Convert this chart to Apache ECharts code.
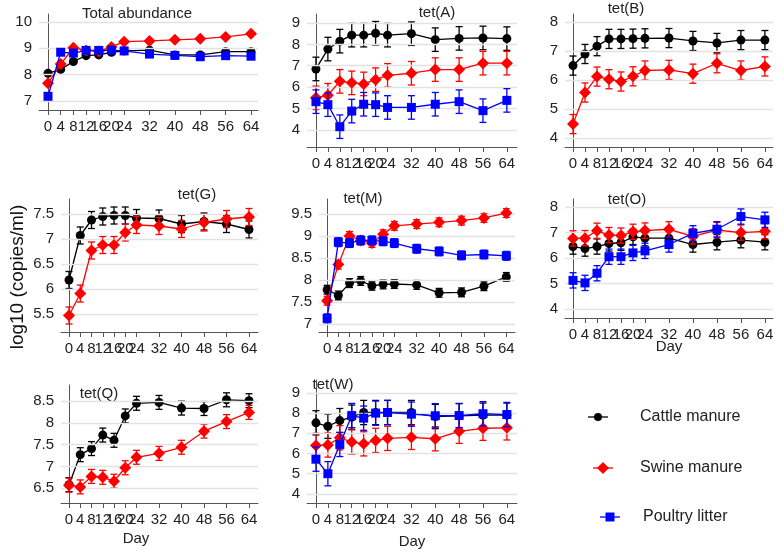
<!DOCTYPE html>
<html><head><meta charset="utf-8">
<script src="https://cdn.jsdelivr.net/npm/echarts@6/dist/echarts.min.js"></script>
<style>html,body{margin:0;padding:0;background:#fff}#c{width:784px;height:558px}</style>
</head><body><div id="c"></div>
<script>
// ---------------- data ----------------
const days = [0,4,8,12,16,20,24,32,40,48,56,64];
const seriesNames = ['Cattle manure','Swine manure','Poultry litter'];
const panelTitles = ['Total abundance','tet(A)','tet(B)','tet(G)','tet(M)','tet(O)','tet(Q)','tet(W)'];

const totalCattle  = [8.05,8.20,8.50,8.72,8.75,8.85,8.90,8.93,8.75,8.75,8.87,8.87];
const totalSwine   = [7.67,8.40,9.02,8.92,8.88,9.05,9.25,9.28,9.32,9.36,9.43,9.55];
const totalPoultry = [7.18,8.85,8.82,8.92,8.92,8.93,8.90,8.78,8.73,8.68,8.72,8.70];

const tetACattle  = [6.85,7.78,8.15,8.43,8.43,8.52,8.43,8.50,8.22,8.28,8.30,8.27];
const tetASwine   = [5.50,5.62,6.27,6.20,6.15,6.35,6.55,6.65,6.82,6.82,7.12,7.12];
const tetAPoultry = [5.32,5.18,4.15,4.88,5.20,5.18,5.05,5.05,5.20,5.32,4.90,5.38];

const tetBCattle = [6.50,6.90,7.17,7.42,7.42,7.43,7.44,7.45,7.35,7.28,7.38,7.38];
const tetBSwine  = [4.48,5.57,6.12,6.03,5.95,6.13,6.33,6.35,6.22,6.58,6.33,6.47];

const tetGCattle = [6.18,7.07,7.38,7.45,7.47,7.47,7.42,7.41,7.30,7.35,7.30,7.19];
const tetGSwine  = [5.47,5.91,6.77,6.88,6.88,7.13,7.28,7.26,7.20,7.33,7.40,7.44];

const tetMCattle  = [7.78,7.65,7.93,7.98,7.87,7.90,7.91,7.89,7.71,7.72,7.86,8.07];
const tetMSwine   = [7.53,8.35,9.00,8.90,8.84,9.04,9.23,9.27,9.31,9.35,9.41,9.52];
const tetMPoultry = [7.13,8.86,8.84,8.90,8.90,8.88,8.84,8.71,8.65,8.56,8.58,8.55];

const tetOCattle  = [6.45,6.37,6.45,6.57,6.60,6.83,6.78,6.78,6.53,6.62,6.70,6.62];
const tetOSwine   = [6.77,6.78,7.07,6.90,6.88,7.03,7.08,7.13,6.85,7.10,7.00,7.05];
const tetOPoultry = [5.12,5.02,5.40,6.05,6.05,6.20,6.28,6.53,6.97,7.13,7.63,7.50];

const tetQCattle = [6.58,7.27,7.41,7.72,7.60,8.16,8.45,8.47,8.34,8.33,8.53,8.51];
const tetQSwine  = [6.57,6.53,6.77,6.75,6.66,6.97,7.21,7.30,7.44,7.81,8.03,8.24];

const tetWCattle  = [7.52,7.35,7.63,7.80,8.03,8.03,8.03,8.03,7.83,7.87,7.90,7.90];
const tetWSwine   = [6.40,6.42,6.78,6.57,6.48,6.65,6.75,6.80,6.73,7.10,7.25,7.27];
const tetWPoultry = [5.72,5.00,6.45,7.88,7.75,8.00,8.03,7.95,7.87,7.88,7.97,7.93];

// half-length of error bars per panel (log10 units)
const panelErrors = [0.03,0.55,0.33,0.17,0.10,0.30,0.16,0.60];

// y tick labels per panel
const yTicks = [
  [7,8,9,10],[4,5,6,7,8,9],[4,5,6,7,8],[5.5,6,6.5,7,7.5],
  [7,7.5,8,8.5,9,9.5],[4,5,6,7,8],[6.5,7,7.5,8,8.5],[4,5,6,7,8,9]
];
const yRanges = [[6.66,10.3],[3.2,9.42],[3.69,8.28],[5.14,7.8],[6.82,9.84],[3.64,8.32],[6.16,8.87],[3.55,9.64]];

const panelSeries = [
  [totalCattle,totalSwine,totalPoultry],
  [tetACattle,tetASwine,tetAPoultry],
  [tetBCattle,tetBSwine,null],
  [tetGCattle,tetGSwine,null],
  [tetMCattle,tetMSwine,tetMPoultry],
  [tetOCattle,tetOSwine,tetOPoultry],
  [tetQCattle,tetQSwine,null],
  [tetWCattle,tetWSwine,tetWPoultry]
];

// ---------------- layout / style ----------------
const grids = [
  {left:39, top:14, width:219, height:96,  xr:[-2.84,66.2]},
  {left:307,top:14, width:210, height:133, xr:[-3.0,67.4]},
  {left:565,top:14, width:208, height:133, xr:[-2.67,66.7]},
  {left:61, top:199,width:197, height:133, xr:[-2.85,67.2]},
  {left:319,top:199,width:196, height:133, xr:[-2.9,67.1]},
  {left:565,top:199,width:208, height:119, xr:[-2.67,66.7]},
  {left:61, top:385,width:197, height:118, xr:[-2.85,67.2]},
  {left:307,top:380,width:210, height:123, xr:[-3.0,67.4]}
];
const titlePos = [[137,14],[437,13],[626,9],[197,195],[363,199],[627,200],[99,394],[333,385]];
const colors = ['#000000','#ff0000','#0000ff'];
const symbols = ['circle','diamond','rect'];
const symbolSizes = [9,12,9];
const FONT = 'Liberation Sans, Arial, sans-serif';
const axisColor = '#555';
const labelColor = '#222';

const option = {
  animation:false,
  backgroundColor:'#fff',
  grid:[], xAxis:[], yAxis:[], series:[], graphic:[]
};

grids.forEach((g,i)=>{
  option.grid.push({left:g.left, top:g.top, width:g.width, height:g.height, containLabel:false});
  option.xAxis.push({
    type:'value', gridIndex:i, min:g.xr[0], max:g.xr[1],
    axisLine:{show:true, onZero:false, lineStyle:{color:axisColor, width:1}},
    axisTick:{show:true, length:5, customValues:days, lineStyle:{color:axisColor}},
    axisLabel:{customValues:days, color:labelColor, fontSize:15, fontFamily:FONT, margin:9},
    splitLine:{show:false}
  });
  option.yAxis.push({
    type:'value', gridIndex:i, min:yRanges[i][0], max:yRanges[i][1],
    axisLine:{show:true, lineStyle:{color:axisColor, width:1}},
    axisTick:{show:true, length:5, customValues:yTicks[i], lineStyle:{color:axisColor}},
    axisLabel:{customValues:yTicks[i], color:labelColor, fontSize:15, fontFamily:FONT, margin:7},
    splitLine:{show:false}
  });
  // grid lines at y ticks (light grey)
  option.series.push({
    type:'line', xAxisIndex:i, yAxisIndex:i, silent:true, symbol:'none', z:0,
    data:[[g.xr[0], yTicks[i][0]],[g.xr[1], yTicks[i][0]]],
    lineStyle:{opacity:0},
    markLine:{silent:true, symbol:'none', animation:false, label:{show:false},
      lineStyle:{color:'#e2e2e2', type:'solid', width:1.3},
      data:yTicks[i].map(v=>({yAxis:v}))}
  });
  panelSeries[i].forEach((vals,s)=>{
    if(!vals) return;
    const err = panelErrors[i];
    const col = colors[s];
    option.series.push({
      type:'custom', xAxisIndex:i, yAxisIndex:i, silent:true, z:2+s*2,
      data: days.map((d,k)=>[d, vals[k]-err, vals[k]+err]),
      encode:{x:0, y:[1,2]},
      renderItem:(params,api)=>{
        const x = api.value(0);
        const lo = api.coord([x, api.value(1)]);
        const hi = api.coord([x, api.value(2)]);
        const w = 3.5;
        const st = {stroke:col, lineWidth:1.3};
        return {type:'group', children:[
          {type:'line', shape:{x1:lo[0],y1:lo[1],x2:hi[0],y2:hi[1]}, style:st},
          {type:'line', shape:{x1:lo[0]-w,y1:lo[1],x2:lo[0]+w,y2:lo[1]}, style:st},
          {type:'line', shape:{x1:hi[0]-w,y1:hi[1],x2:hi[0]+w,y2:hi[1]}, style:st}
        ]};
      }
    });
    option.series.push({
      type:'line', name:seriesNames[s], xAxisIndex:i, yAxisIndex:i, z:3+s*2,
      data: days.map((d,k)=>[d, vals[k]]),
      symbol:symbols[s], symbolSize:symbolSizes[s], showSymbol:true,
      lineStyle:{color:col, width:1.3},
      itemStyle:{color:col, borderWidth:0}
    });
  });
  option.graphic.push({type:'text', x:titlePos[i][0], y:titlePos[i][1],
    style:{text:panelTitles[i], font:'15px '+FONT, fill:'#222', align:'center', verticalAlign:'middle'}});
});

// axis titles
option.graphic.push({type:'text', x:18, y:277, rotation:Math.PI/2,
  style:{text:'log10 (copies/ml)', font:'19px '+FONT, fill:'#111', align:'center', verticalAlign:'middle'}});
[[669,347],[136,539],[412,542]].forEach(p=>{
  option.graphic.push({type:'text', x:p[0], y:p[1],
    style:{text:'Day', font:'15px '+FONT, fill:'#222', align:'center', verticalAlign:'middle'}});
});

// legend
const legendPos = [[598,417,640],[603,468,640],[610,517,643]];
legendPos.forEach((p,s)=>{
  option.graphic.push({type:'line', shape:{x1:p[0]-10,y1:p[1],x2:p[0]+10,y2:p[1]}, style:{stroke:colors[s], lineWidth:1.3}});
  let sh;
  if(s===0) sh={type:'circle', shape:{cx:p[0],cy:p[1],r:4}, style:{fill:colors[s]}};
  else if(s===1) sh={type:'polygon', shape:{points:[[p[0],p[1]-6],[p[0]+6,p[1]],[p[0],p[1]+6],[p[0]-6,p[1]]]}, style:{fill:colors[s]}};
  else sh={type:'rect', shape:{x:p[0]-4.5,y:p[1]-4.5,width:9,height:9}, style:{fill:colors[s]}};
  option.graphic.push(sh);
  option.graphic.push({type:'text', x:p[2], y:p[1], style:{text:seriesNames[s], font:'16px '+FONT, fill:'#222', verticalAlign:'middle'}});
});

const chart = echarts.init(document.getElementById('c'), null, {renderer:'canvas'});
chart.setOption(option);
</script>
</body></html>
